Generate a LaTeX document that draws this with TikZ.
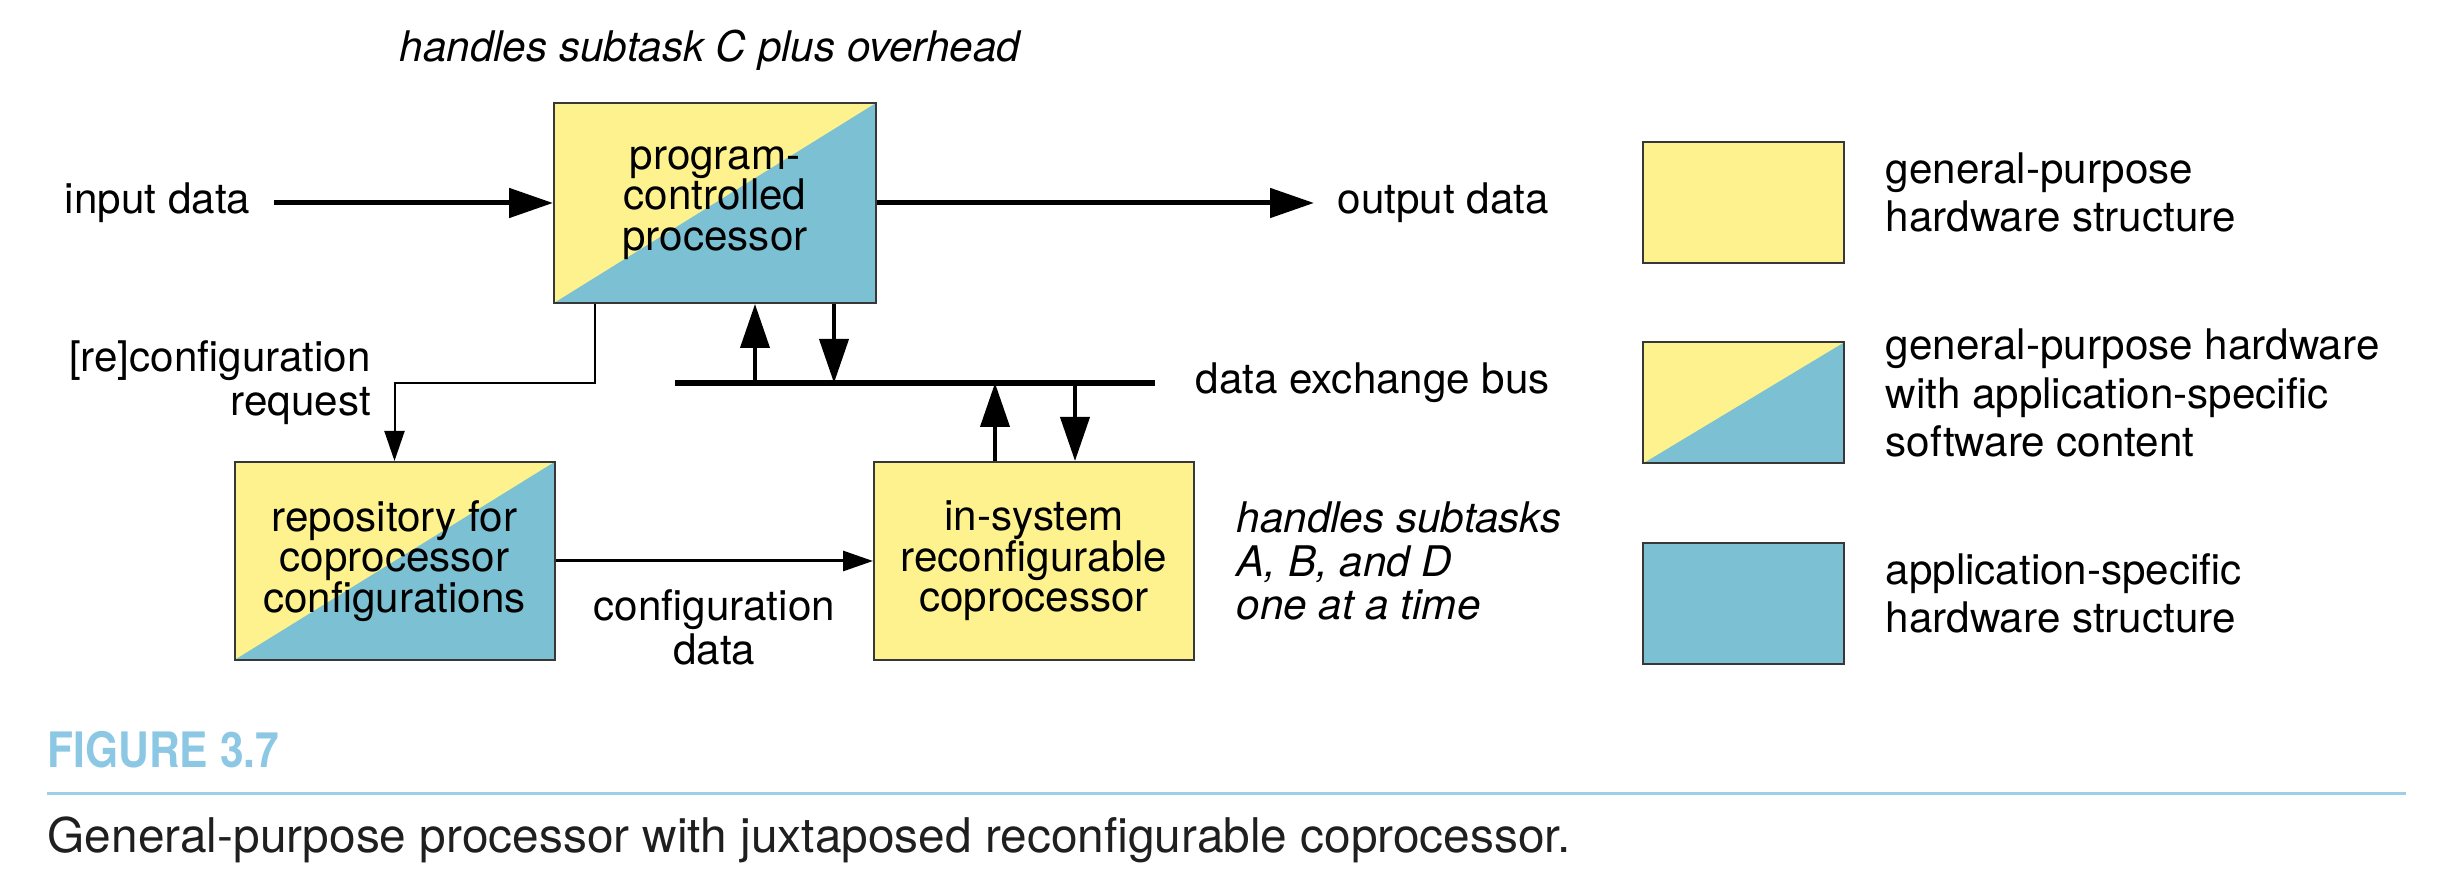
\documentclass[tikz,border=0pt]{standalone}
\usepackage{fontspec}
\setmainfont{TeX Gyre Heros}
\newfontfamily\figfont[FakeStretch=0.87]{TeX Gyre Heros}
\usepackage{tikz}
\usetikzlibrary{arrows.meta,positioning}
\definecolor{gpyellow}{HTML}{FEF28E}
\definecolor{asblue}{HTML}{7BC1D3}
\definecolor{figblue}{HTML}{8CC8E3}
\colorlet{rim}{black!78}
\newcommand\labelfont{\fontsize{12}{12.5}\selectfont}

\tikzset{
  box/.style={draw=rim, line width=0.2mm, minimum width=32mm, minimum height=19.8mm,
    align=center, inner sep=0pt, font=\fontsize{12}{11.5}\selectfont},
  gp/.style={box, fill=gpyellow},
  asic/.style={box, fill=asblue},
  mixed/.style={box, fill=gpyellow, path picture={
    \fill[asblue] (path picture bounding box.south west) -- (path picture bounding box.north east)
      -- (path picture bounding box.south east) -- cycle;}},
  legbox/.style={minimum width=20.1mm, minimum height=12.1mm},
  lbl/.style={inner sep=0pt, font=\labelfont},
  key/.style={inner sep=0pt, align=left, font=\fontsize{12}{13.8}\selectfont},
  bigarrow/.style={-{Triangle[length=4.4mm,width=2.9mm]}, line width=0.5mm},
  busarrow/.style={-{Triangle[length=4.4mm,width=2.9mm]}, line width=0.4mm},
  thinarrow/.style={-{Triangle[length=3mm,width=2mm]}, line width=0.3mm},
  bus/.style={line width=0.55mm}
}

\begin{document}
\begin{tikzpicture}[x=0.1mm, y=-0.1mm]
\useasboundingbox (0,0) rectangle (2462,892);

\node[mixed, minimum width=32.2mm, minimum height=20mm] (proc) at (715,203) {program-\\controlled\\processor};
\node[mixed] (repo) at (394.5,561) {repository for\\coprocessor\\configurations};
\node[gp] (copro) at (1034,561) {in-system\\reconfigurable\\coprocessor};

\node[lbl, above=3.1mm of proc, xshift=-0.5mm, font=\labelfont\itshape] (ctask) {handles subtask C plus overhead};
\node[lbl, inner xsep=2.3mm, left=27.9mm of proc] (in) {input data};
\node[lbl, inner xsep=2.3mm, right=43.7mm of proc] (out) {output data};
\draw[bigarrow] (in) -- (proc);
\draw[bigarrow] (proc) -- (out);

\coordinate (busL) at (675,383);
\coordinate (busR) at (1155,383);
\draw[bus] (busL) -- (busR);
\node[lbl, right=4mm of busR] (busname) {data exchange bus};

\coordinate (p1) at (755,383);
\coordinate (p2) at (834,383);
\coordinate (c1) at (995,383);
\coordinate (c2) at (1075,383);
\draw[busarrow] (p1) -- (p1 |- proc.south);
\draw[busarrow] (p2 |- proc.south) -- (p2);
\draw[busarrow] (c1 |- copro.north) -- (c1);
\draw[busarrow] (c2) -- (c2 |- copro.north);

\coordinate (rq) at (595,383);
\coordinate (rqc) at (rq -| repo.north);
\draw[thinarrow, line width=0.2mm] (rq |- proc.south) -- (rq) -| (repo.north);
\node[lbl, left=2.3mm of rqc, align=right] (req) {[re]configuration\\request};

\draw[thinarrow] (repo) -- node[lbl, below=2.7mm, align=center] (cdata) {configuration\\data} (copro);
\node[lbl, right=4.1mm of copro, align=left, font=\labelfont\itshape] (abd) {handles subtasks\\A, B, and D\\one at a time};

\node[gp, legbox] (lgA) at (1743.5,202.5) {};
\node[mixed, legbox] (lgB) at (1743.5,403) {};
\node[asic, legbox] (lgC) at (1743.5,603.5) {};
\node[key, right=4mm of lgA, yshift=1mm] (keyA) {general-purpose\\hardware structure};
\node[key, right=4mm of lgB, yshift=1mm] (keyB) {general-purpose hardware\\with application-specific\\software content};
\node[key, right=4mm of lgC, yshift=1mm] (keyC) {application-specific\\hardware structure};

\node[anchor=base west, inner sep=0pt, text=figblue, font=\figfont\bfseries\fontsize{13.9}{16}\selectfont] (fig) at (47,768) {FIGURE 3.7};
\draw[figblue!85, line width=0.3mm] (47,794) -- (2406,794);
\node[anchor=base west, inner sep=0pt, text=black!88, font=\fontsize{13.6}{16}\selectfont] (cap) at (47,853) {General-purpose processor with juxtaposed reconfigurable coprocessor.};
\end{tikzpicture}
\end{document}
